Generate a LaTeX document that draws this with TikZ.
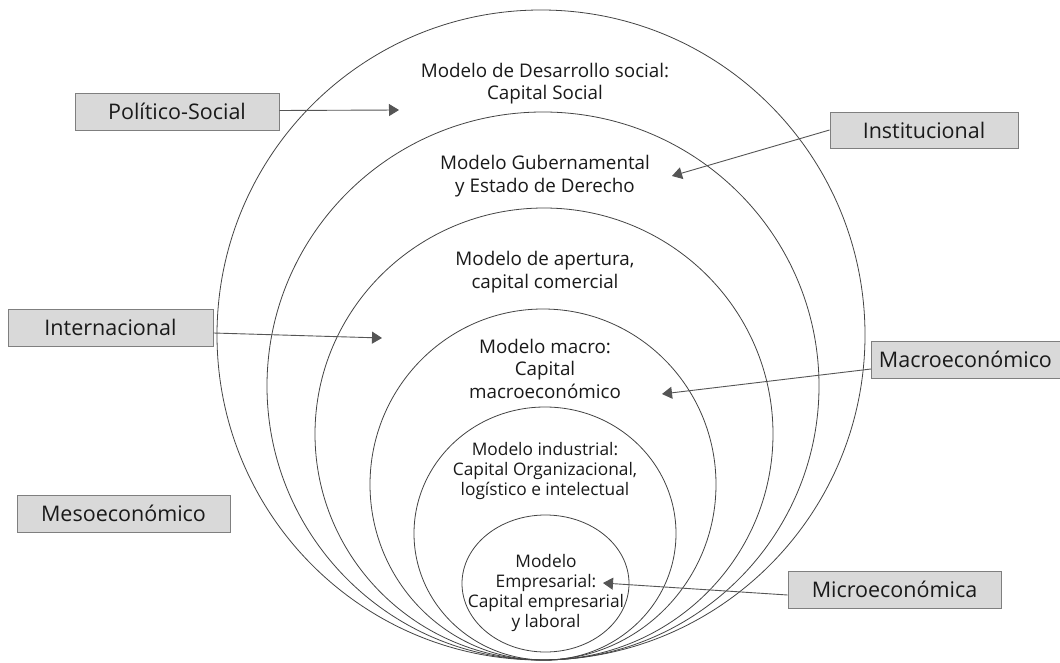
\documentclass[tikz,border=0pt]{standalone}
\usepackage{fontspec}
\setmainfont{Open Sans}
\usetikzlibrary{arrows.meta}
\definecolor{linegray}{HTML}{555555}
\definecolor{ringgray}{HTML}{444444}
\definecolor{boxborder}{HTML}{7F7F7F}
\definecolor{boxfill}{HTML}{D9D9D9}
\definecolor{textcol}{HTML}{1A1A1A}
\begin{document}
\begin{tikzpicture}[x=1pt,y=-1pt,
  ring/.style={draw=ringgray, line width=0.8pt},
  labelbox/.style={draw=boxborder, fill=boxfill, line width=0.9pt, inner sep=0pt,
    font=\fontsize{21.5}{24}\selectfont, text=textcol},
  pointer/.style={draw=linegray, line width=0.9pt, -{Triangle[length=10pt,width=12pt]}},
  bigtext/.style={align=center, font=\fontsize{18.8}{22.5}\selectfont, text=textcol, inner sep=0pt},
  smalltext/.style={align=center, font=\fontsize{17.3}{19.7}\selectfont, text=textcol, inner sep=0pt}]
\useasboundingbox[fill=white] (0,0) rectangle (1060,663);

% rings, all touching at the bottom
\draw[ring] (541,335)   ellipse [x radius=324pt, y radius=325pt];
\draw[ring] (543,386)   ellipse [x radius=276pt, y radius=274pt];
\draw[ring] (544,434)   ellipse [x radius=229pt, y radius=226pt];
\draw[ring] (543,484.5) ellipse [x radius=173pt, y radius=175.5pt];
\draw[ring] (545,533.5) ellipse [x radius=131pt, y radius=126.5pt];
\draw[ring] (545.5,583.5) ellipse [x radius=83.5pt, y radius=68.5pt];

% ring texts
\node[bigtext] (social) at (545,83.5) {Modelo de Desarrollo social:\\Capital Social};
\node[bigtext] (gub) at (545,176) {Modelo Gubernamental\\y Estado de Derecho};
\node[bigtext] (apert) at (545,272) {Modelo de apertura,\\capital comercial};
\node[bigtext] (macrot) at (545,368.5) {Modelo macro:\\Capital\\macroeconómico};
\node[smalltext] (indus) at (545,471) {Modelo industrial:\\Capital Organizacional,\\logístico e intelectual};
\node[smalltext] (empre) at (546,593) {Modelo\\Empresarial:\\Capital empresarial\\y laboral};

% label boxes
\node[labelbox, minimum width=204pt, minimum height=37pt] (pol) at (177,111.5) {Político-Social};
\node[labelbox, minimum width=188pt, minimum height=36pt] (inst) at (924,130) {Institucional};
\node[labelbox, minimum width=205pt, minimum height=37pt] (intl) at (110.5,327.5) {Internacional};
\node[labelbox, minimum width=192pt, minimum height=37pt, anchor=west, text depth=0pt] (macro) at (871,359.5) {Macroeconómico\hspace*{4pt}};
\node[labelbox, minimum width=213pt, minimum height=37pt] (meso) at (123.5,513.5) {Mesoeconómico};
\node[labelbox, minimum width=213pt, minimum height=37pt] (micro) at (894.5,589.5) {Microeconómica};

% arrow tips
\coordinate (tpol) at (399,110);
\coordinate (tinst) at (672,176);
\coordinate (tintl) at (382,338);
\coordinate (tmacro) at (662,394);
\coordinate (tmicro) at (603,583);

\draw[pointer] (pol.east) ++(0,-1) -- (tpol);
\draw[pointer] (inst.west) -- (tinst);
\draw[pointer] (intl.east) ++(0,5.5) -- (tintl);
\draw[pointer] (macro.west) ++(0,9.5) -- (tmacro);
\draw[pointer] (micro.west) ++(0,5.5) -- (tmicro);
\end{tikzpicture}
\end{document}
